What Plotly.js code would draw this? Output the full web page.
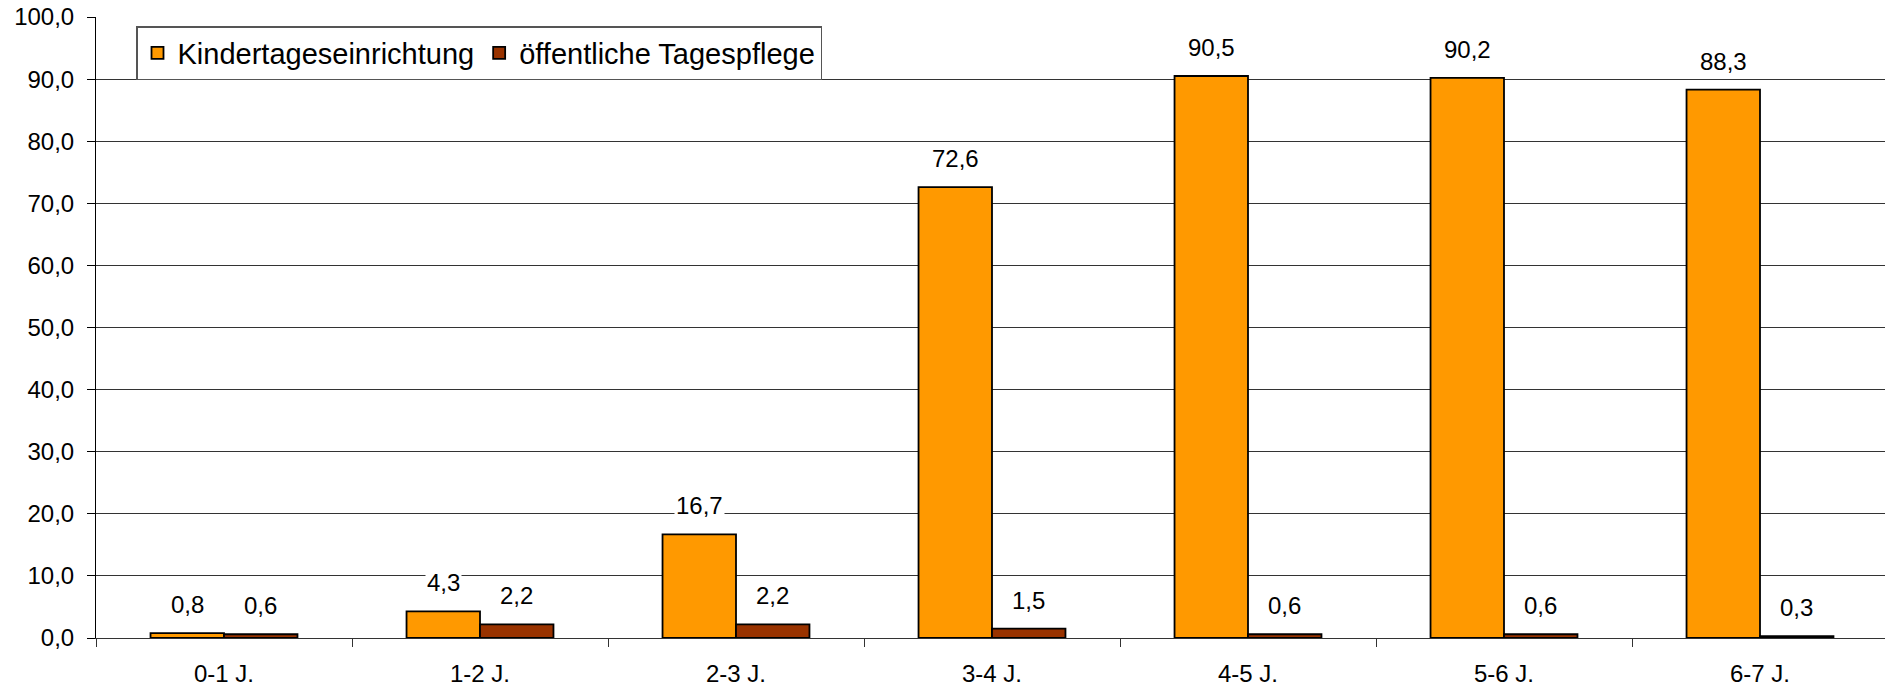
<!DOCTYPE html>
<html>
<head>
<meta charset="utf-8">
<script src="https://cdn.plot.ly/plotly-3.0.1.min.js"></script>
<style>html,body{margin:0;padding:0;overflow:hidden;background:#fff;}</style>
</head>
<body>
<div id="chart"></div>
<script>
var categories = ["0-1 J.", "1-2 J.", "2-3 J.", "3-4 J.", "4-5 J.", "5-6 J.", "6-7 J."];
var kita = [0.8, 4.3, 16.7, 72.6, 90.5, 90.2, 88.3];
var tagespflege = [0.6, 2.2, 2.2, 1.5, 0.6, 0.6, 0.3];
var seriesNames = ["Kindertageseinrichtung", "öffentliche Tagespflege"];
var yTicks = [0, 10, 20, 30, 40, 50, 60, 70, 80, 90, 100];

var W = 1888, H = 686;
var margin = {l: 96, r: 0, t: 17, b: 48};
var plotW = W - margin.l - margin.r;
var plotH = H - margin.t - margin.b;
var bargap = 0.426;
var catW = plotW / categories.length;
var barW = catW * (1 - bargap) / 2;

function fmt(v) { return v.toFixed(1).replace('.', ','); }

var font = {family: "Liberation Sans, Arial, sans-serif", color: "#000"};

var traces = [
  {type: "bar", name: seriesNames[0], x: categories, y: kita,
   marker: {color: "#FF9900", line: {color: "#000", width: 1.8}}, hoverinfo: "skip"},
  {type: "bar", name: seriesNames[1], x: categories, y: tagespflege,
   marker: {color: "#993300", line: {color: "#000", width: 1.8}}, hoverinfo: "skip"}
];

var annotations = [];
[kita, tagespflege].forEach(function (vals, si) {
  vals.forEach(function (v, i) {
    annotations.push({
      x: categories[i], y: v, xref: "x", yref: "y",
      text: fmt(v), showarrow: false,
      xanchor: "center", yanchor: "bottom",
      xshift: (si === 0 ? -1 : 1) * barW / 2, yshift: 13,
      bgcolor: "#fff", borderpad: 1,
      font: {family: font.family, color: "#000", size: 24}
    });
  });
});

var layout = {
  width: W, height: H, margin: margin,
  paper_bgcolor: "#fff", plot_bgcolor: "#fff",
  font: font,
  separators: ",.",
  barmode: "group", bargap: bargap, bargroupgap: 0,
  showlegend: true,
  legend: {
    orientation: "h", x: 40 / plotW, y: 1 - 9 / plotH, xanchor: "left", yanchor: "top",
    bgcolor: "#fff", bordercolor: "#555", borderwidth: 1.5,
    font: {family: font.family, size: 29, color: "#000"},
    itemwidth: 30
  },
  xaxis: {
    type: "category", showgrid: false, showline: true, linecolor: "#333", linewidth: 1,
    ticks: "outside", tickson: "boundaries", ticklen: 8, tickcolor: "#333",
    ticklabelstandoff: 14,
    tickfont: {family: font.family, size: 24, color: "#000"},
    zeroline: false, fixedrange: true
  },
  yaxis: {
    range: [0, 100], tickvals: yTicks, tickformat: ".1f",
    showgrid: true, gridcolor: "#333", gridwidth: 1,
    showline: true, linecolor: "#000", linewidth: 1,
    ticks: "outside", ticklen: 8, tickcolor: "#000",
    ticklabelstandoff: 8,
    tickfont: {family: font.family, size: 24, color: "#000"},
    zeroline: false, fixedrange: true
  },
  annotations: annotations
};

Plotly.newPlot("chart", traces, layout, {displayModeBar: false, staticPlot: true});
</script>
</body>
</html>
